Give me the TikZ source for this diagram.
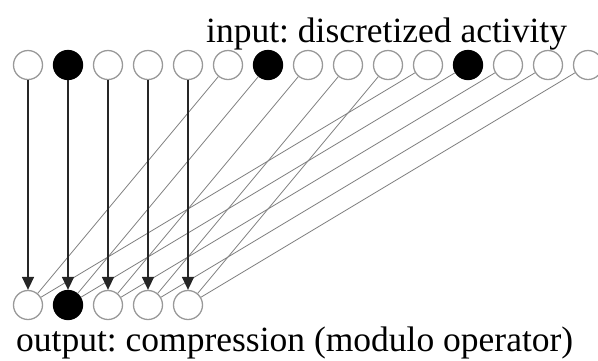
\documentclass[tikz,border=0pt]{standalone}
\usepackage{fontspec}
\setmainfont{Liberation Serif}
\usetikzlibrary{arrows.meta}
\frenchspacing
\begin{document}
\begin{tikzpicture}[x=1pt,y=-1pt,
  unit/.style={circle,draw=black!40,line width=1.3pt,minimum size=29pt,inner sep=0pt,fill=white},
  active/.style={unit,fill=black,draw=black},
  direct/.style={draw=black!85,line width=1.6pt,-{Triangle[length=13pt,width=12pt]}},
  wrap/.style={draw=black!50,line width=0.8pt},
  lbl/.style={font=\fontsize{35.5}{40}\selectfont,inner sep=0pt}]
\useasboundingbox (0,0) rectangle (598,360);
\foreach \i in {0,...,14}{
  \ifnum\i=1 \def\st{active}\else\ifnum\i=6 \def\st{active}\else\ifnum\i=11 \def\st{active}\else\def\st{unit}\fi\fi\fi
  \node[\st] (t\i) at ({28+40*\i},65) {};
}
\foreach \i in {0,...,4}{
  \ifnum\i=1 \def\st{active}\else\def\st{unit}\fi
  \node[\st] (b\i) at ({28+40*\i},305) {};
}
\foreach \i in {5,...,14}{
  \pgfmathtruncatemacro{\j}{mod(\i,5)}
  \draw[wrap] (t\i) -- (b\j);
}
\foreach \i in {0,...,4}{
  \draw[direct] (t\i) -- (b\i);
}
\node[lbl,anchor=base west] (inlbl) at (206,42) {input: discretized activity};
\node[lbl,anchor=base west] (outlbl) at (16,351) {output: compression (modulo operator)};
\end{tikzpicture}
\end{document}
